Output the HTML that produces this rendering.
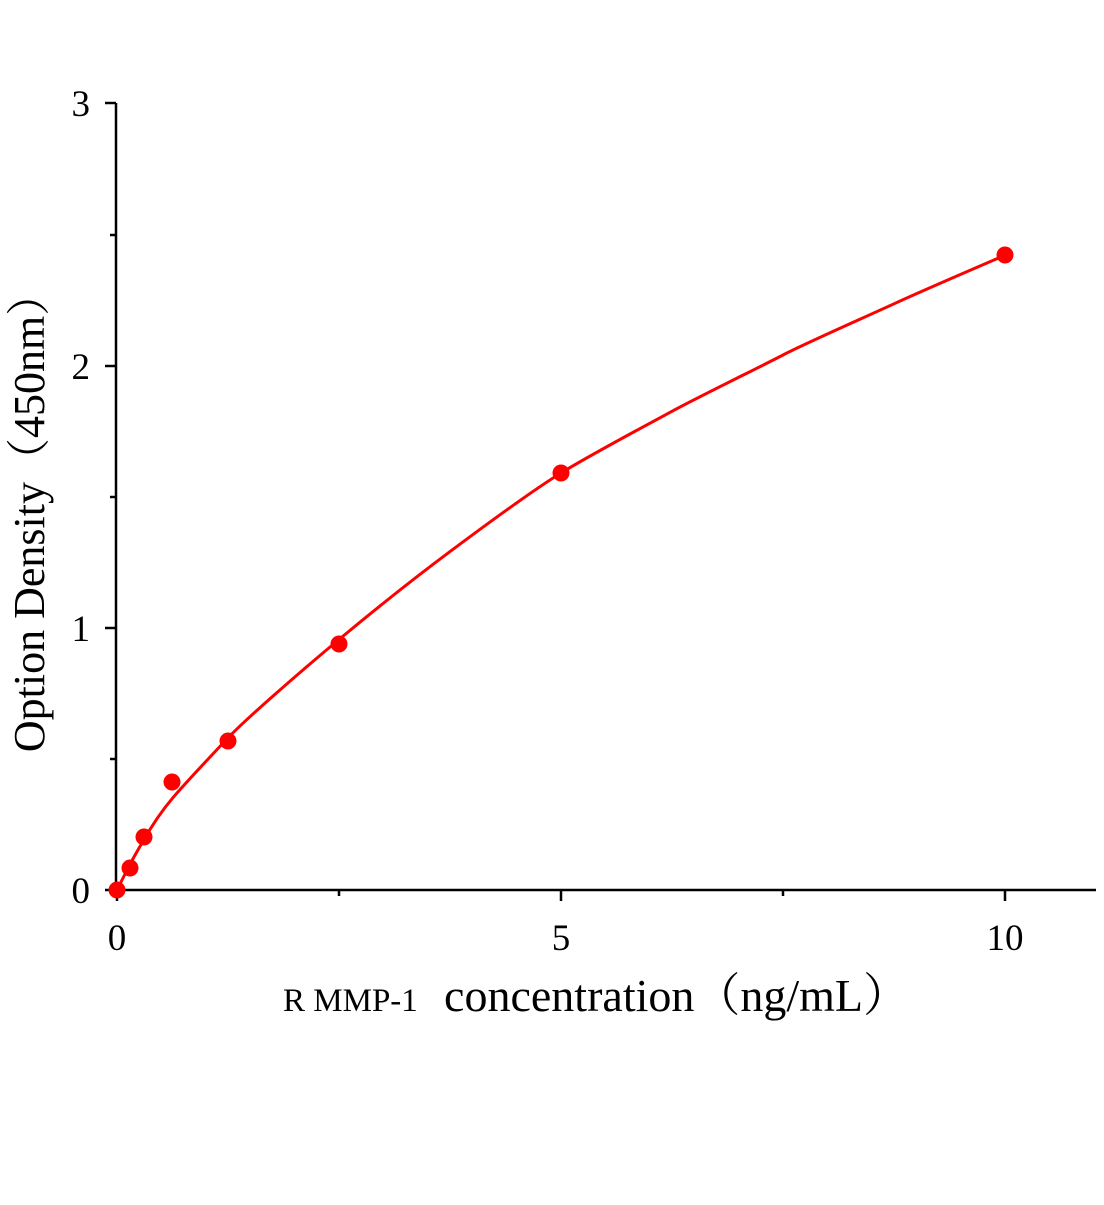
<!DOCTYPE html>
<html><head><meta charset="utf-8"><style>body{margin:0;background:#fff}</style></head><body>
<svg width="1104" height="1200" xmlns="http://www.w3.org/2000/svg" font-family="'Liberation Serif','Noto Serif CJK SC',serif">
<rect width="1104" height="1200" fill="#fff"/>
<g stroke="#000" stroke-width="2.5" fill="none">
<line x1="116" y1="103" x2="116" y2="891"/>
<line x1="115" y1="890" x2="1096" y2="890"/>
<line x1="105" y1="103" x2="116" y2="103"/>
<line x1="105" y1="366" x2="116" y2="366"/>
<line x1="105" y1="628" x2="116" y2="628"/>
<line x1="105" y1="890" x2="116" y2="890"/>
<line x1="110" y1="235" x2="116" y2="235"/>
<line x1="110" y1="497" x2="116" y2="497"/>
<line x1="110" y1="759" x2="116" y2="759"/>
<line x1="117" y1="890" x2="117" y2="901"/>
<line x1="561" y1="890" x2="561" y2="901"/>
<line x1="1005" y1="890" x2="1005" y2="901"/>
<line x1="339" y1="890" x2="339" y2="896"/>
<line x1="783" y1="890" x2="783" y2="896"/>
</g>
<g font-size="37" fill="#000">
<text x="90" y="116" text-anchor="end">3</text>
<text x="90" y="379" text-anchor="end">2</text>
<text x="90" y="641" text-anchor="end">1</text>
<text x="90" y="903" text-anchor="end">0</text>
<text x="117" y="950" text-anchor="middle">0</text>
<text x="561" y="950" text-anchor="middle">5</text>
<text x="1005" y="950" text-anchor="middle">10</text>
</g>
<text x="283" y="1011" font-size="33">R MMP-1 <tspan font-size="46" dx="18">concentration（ng/mL）</tspan></text>
<text transform="translate(44,512) rotate(-90)" text-anchor="middle" font-size="44">Option Density（450nm）</text>
<path fill="none" stroke="#f00" stroke-width="3" d="M117,890 C122,880 126,872 130.3,863.8 S138,850 143.6,840.2 S160,813 172.5,798.2 S210,757 228,737.9 S300,672 339,639.5 S420,574 450,551.6 S530,492 561,473 S645,426 672,411.3 S760,367 783,355 S870,315 894,303.8 S980,266 1005,255.2"/>
<g fill="#f00">
<circle cx="117" cy="890" r="8.5"/>
<circle cx="130" cy="868" r="8.5"/>
<circle cx="144" cy="837" r="8.5"/>
<circle cx="172" cy="782" r="8.5"/>
<circle cx="228" cy="741" r="8.5"/>
<circle cx="339" cy="644" r="8.5"/>
<circle cx="561" cy="473" r="8.5"/>
<circle cx="1005" cy="255" r="8.5"/>
</g>
</svg>
</body></html>
